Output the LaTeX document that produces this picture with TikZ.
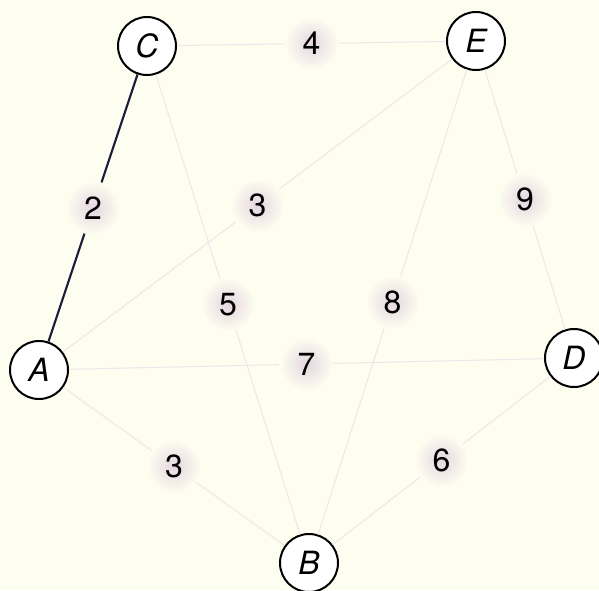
\documentclass[tikz,border=0pt]{standalone}
\usepackage{fontspec}
\setmainfont{TeX Gyre Heros}
\definecolor{bgc}{RGB}{254,254,240}
\definecolor{lblpink}{RGB}{228,214,224}
\definecolor{faint}{RGB}{238,228,234}
\definecolor{dark}{RGB}{30,28,60}
\begin{document}
\begin{tikzpicture}[x=1pt,y=-1pt,
  vert/.style={circle,draw=black,line width=2pt,fill=white,minimum size=58pt,inner sep=0pt,
    font=\fontsize{32}{38}\selectfont\itshape},
  lbl/.style={circle,minimum size=54pt,inner sep=0pt,inner color=lblpink,outer color=bgc,
    font=\fontsize{32}{38}\selectfont},
  edge/.style={draw=faint,line width=1pt},
  sel/.style={draw=dark,line width=2.2pt}]
\useasboundingbox (0,0) rectangle (599,590);
\fill[bgc] (0,0) rectangle (599,590);
\node[vert] (C) at (147,46) {C};
\node[vert] (E) at (476,41) {E};
\node[vert] (A) at (39,370) {A};
\node[vert] (D) at (574,358) {D};
\node[vert] (B) at (309,563) {B};
\draw[sel] (A) -- node[lbl] (w2) {2} (C);
\draw[edge] (C) -- node[lbl] (w4) {4} (E);
\draw[edge] (E) -- node[lbl] (w9) {9} (D);
\draw[edge] (A) -- node[lbl] (w3a) {3} (E);
\draw[edge] (C) -- node[lbl] (w5) {5} (B);
\draw[edge] (E) -- node[lbl] (w8) {8} (B);
\draw[edge] (A) -- node[lbl] (w7) {7} (D);
\draw[edge] (A) -- node[lbl] (w3b) {3} (B);
\draw[edge] (B) -- node[lbl] (w6) {6} (D);
\end{tikzpicture}
\end{document}
